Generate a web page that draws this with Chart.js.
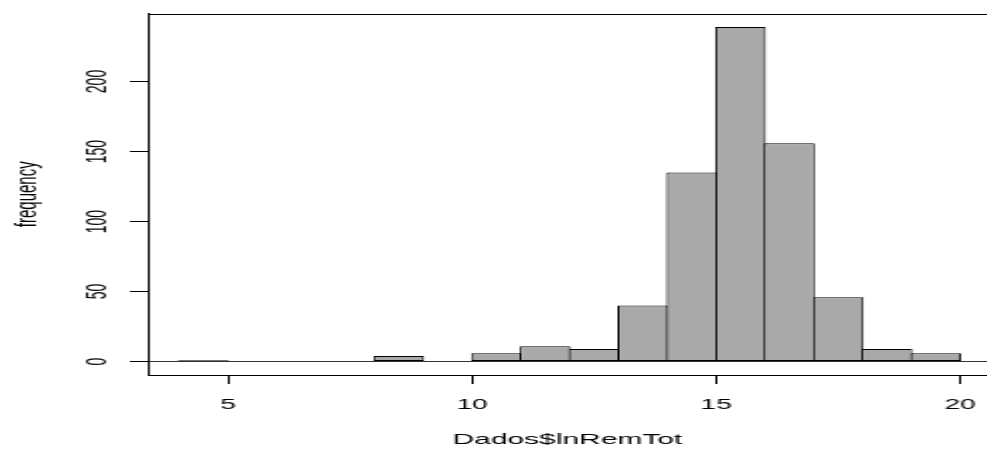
<!DOCTYPE html>
<html lang="en">
<head>
  <meta charset="UTF-8" />
  <title>Histogram of Dados$lnRemTot</title>
  <script src="https://cdn.jsdelivr.net/npm/chart.js"></script>
  <style>
    html, body { margin: 0; padding: 0; background: #fff; overflow: hidden; }
    /* the original picture is stretched horizontally, so draw narrow and widen it */
    #hist { display: block; transform: scaleX(1.998); transform-origin: 0 0; }
  </style>
</head>
<body>
  <canvas id="hist" width="494" height="450"></canvas>

  <script>
    // histogram bins (left edges, width 1) and counts
    const binStarts = [4, 5, 6, 7, 8, 9, 10, 11, 12, 13, 14, 15, 16, 17, 18, 19];
    const counts    = [1, 0, 0, 0, 4, 0, 6, 11, 9, 40, 135, 239, 156, 46, 9, 6];

    // axis ticks
    const xTicks = [5, 10, 15, 20];
    const yTicks = [0, 50, 100, 150, 200];

    const xTitle = 'Dados$lnRemTot';
    const yTitle = 'frequency';

    const fontFamily = '"Liberation Sans", Arial, sans-serif';

    // top line of the box (right side falls outside the picture)
    const frameTop = {
      id: 'frameTop',
      beforeDatasetsDraw(chart) {
        const { ctx, chartArea } = chart;
        ctx.save();
        ctx.strokeStyle = '#000';
        ctx.lineWidth = 1;
        ctx.beginPath();
        ctx.moveTo(chartArea.left, Math.round(chartArea.top) + 0.5);
        ctx.lineTo(chartArea.right, Math.round(chartArea.top) + 0.5);
        ctx.stroke();
        ctx.restore();
      }
    };

    // no extra room for the end labels, the plot runs to the right edge
    function noLabelPadding(scale) {
      scale.paddingLeft = 0;
      scale.paddingRight = 0;
      scale.paddingTop = 0;
      scale.paddingBottom = 0;
    }

    const ctx = document.getElementById('hist').getContext('2d');

    new Chart(ctx, {
      type: 'bar',
      data: {
        datasets: [{
          data: binStarts.map((s, i) => ({ x: s + 0.5, y: counts[i] })),
          backgroundColor: '#a9a9a9',
          borderColor: '#000',
          borderWidth: 1,
          borderSkipped: false,
          inflateAmount: 0,
          // bars overlap by one border so neighbours share a single edge line
          barPercentage: 1.041,
          categoryPercentage: 1
        }]
      },
      options: {
        responsive: false,
        animation: false,
        layout: { autoPadding: false, padding: { top: 13.5, right: 0, bottom: 0, left: 0 } },
        plugins: {
          legend: { display: false },
          tooltip: { enabled: false }
        },
        scales: {
          x: {
            type: 'linear',
            offset: false,
            min: 3.36,
            max: 20.55,
            afterBuildTicks: (scale) => { scale.ticks = xTicks.map(v => ({ value: v })); },
            afterFit: (scale) => { scale.height = 75; noLabelPadding(scale); },
            border: { display: true, color: '#000', width: 1 },
            grid: { offset: false, drawOnChartArea: false, drawTicks: true, tickLength: 9, tickColor: '#000' },
            ticks: {
              color: '#000',
              padding: 13,
              maxRotation: 0,
              autoSkip: false,
              font: { family: fontFamily, size: 14 }
            },
            title: {
              display: true,
              text: xTitle,
              color: '#000',
              padding: { top: 0, bottom: 1 },
              font: { family: fontFamily, size: 15 }
            }
          },
          y: {
            min: -9.56,
            max: 248.56,
            afterBuildTicks: (scale) => { scale.ticks = yTicks.map(v => ({ value: v })); },
            afterFit: (scale) => { scale.width = 74; noLabelPadding(scale); },
            border: { display: true, color: '#000', width: 1 },
            grid: {
              drawOnChartArea: true,
              drawTicks: true,
              tickLength: 9,
              tickColor: '#000',
              color: (c) => (c.tick && c.tick.value === 0 ? '#333' : 'rgba(0,0,0,0)')
            },
            ticks: {
              color: '#000',
              padding: 4,
              minRotation: 90,
              maxRotation: 90,
              crossAlign: 'center',
              font: { family: fontFamily, size: 14 }
            },
            title: {
              display: true,
              text: yTitle,
              color: '#000',
              padding: { top: 4.5, bottom: 0 },
              font: { family: fontFamily, size: 15 }
            }
          }
        }
      },
      plugins: [frameTop]
    });
  </script>
</body>
</html>
